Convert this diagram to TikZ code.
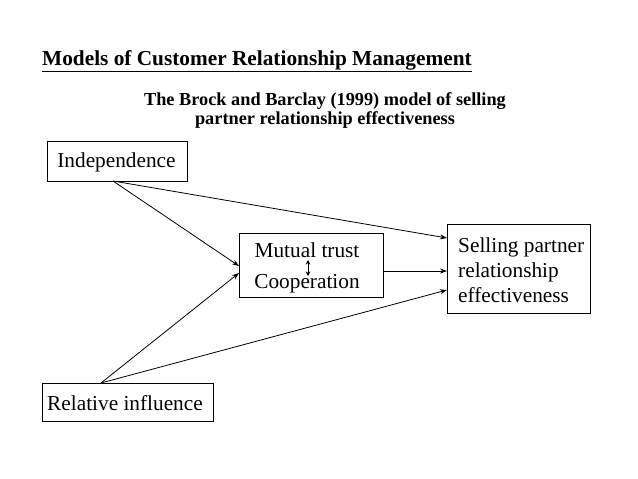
\documentclass[tikz,border=0pt]{standalone}
\usepackage{fontspec}
\setmainfont{Liberation Serif}
\usetikzlibrary{arrows.meta}
\begin{document}
\begin{tikzpicture}[x=1pt,y=-1pt,
  box/.style={draw,line width=0.8pt,inner sep=0pt},
  lbl/.style={font=\fontsize{21.3}{25}\selectfont,inner sep=0pt,anchor=base},
  subt/.style={font=\fontsize{18.3}{19}\selectfont\bfseries,inner sep=0pt,anchor=base},
  conn/.style={line width=0.8pt,-{Stealth[length=7pt,width=5pt]}},
  dbl/.style={line width=0.8pt,{Stealth[length=4.5pt,width=4.5pt]}-{Stealth[length=4.5pt,width=4.5pt]}}]
\useasboundingbox[fill=white] (0,0) rectangle (638,479);
% title
\node[anchor=base west,inner sep=0pt,font=\fontsize{21.3}{24}\selectfont\bfseries] (title) at (42,65) {\underline{Models of Customer Relationship Management}};
\node[subt] (sub1) at (325,105) {The Brock and Barclay (1999) model of selling};
\node[subt] (sub2) at (325,124) {partner relationship effectiveness};
% boxes
\node[box,minimum width=140pt,minimum height=40pt,anchor=north west] (ind) at (47,141) {};
\node[lbl] (indt) at (116.5,167) {Independence};
\node[box,minimum width=171pt,minimum height=38pt,anchor=north west] (rel) at (42,383) {};
\node[lbl] (relt) at (125,410) {Relative influence};
\node[box,minimum width=144pt,minimum height=64pt,anchor=north west] (mt) at (239,233) {};
\node[lbl] (mtt) at (307,257) {Mutual trust};
\node[lbl] (coop) at (307,288) {Cooperation};
\node[box,minimum width=143pt,minimum height=89pt,anchor=north west] (sp) at (447,224) {};
\node[lbl,anchor=base west] (sp1) at (458,252) {Selling partner};
\node[lbl,anchor=base west] (sp2) at (458,277) {relationship};
\node[lbl,anchor=base west] (sp3) at (458,302) {effectiveness};
% connectors
\coordinate (indb) at (113,181);
\coordinate (relt0) at (101,383);
\coordinate (dtop) at (308,260);
\coordinate (dbot) at (308,276);
\draw[conn] (indb) -- (mt.west |- 0,266);
\draw[conn] (indb) -- (sp.west |- 0,238);
\draw[conn] (relt0) -- (mt.west |- 0,273);
\draw[conn] (relt0) -- (sp.west |- 0,290);
\draw[conn] (mt.east |- 0,271) -- (sp.west |- 0,271);
\draw[dbl] (dtop) -- (dbot);
\end{tikzpicture}
\end{document}
